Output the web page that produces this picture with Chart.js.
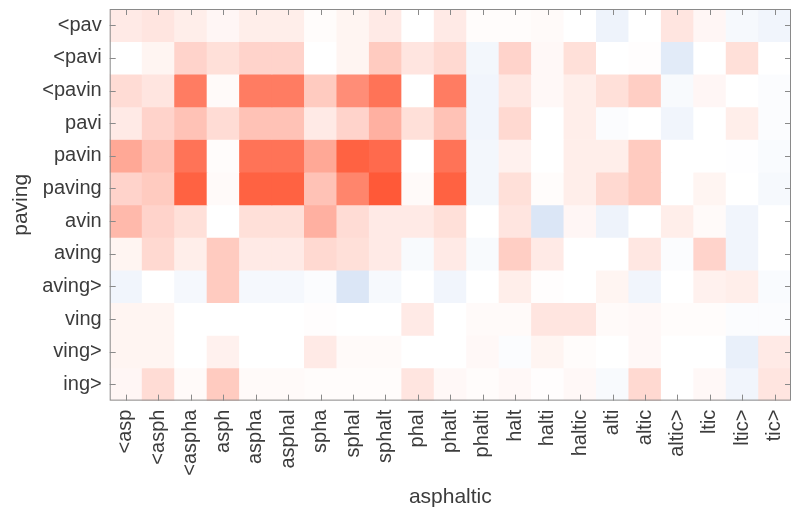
<!DOCTYPE html>
<html>
<head>
<meta charset="utf-8">
<script src="https://cdn.jsdelivr.net/npm/chart.js@4.4.1/dist/chart.umd.min.js"></script>
<style>
  html, body { margin: 0; padding: 0; background: #fff; }
  #wrap { width: 792px; height: 510px; }
</style>
</head>
<body>
<div id="wrap"><canvas id="heat"></canvas></div>
<script>
// rows (y) and columns (x) of the similarity map
const rowLabels = ["<pav", "<pavi", "<pavin", "pavi", "pavin", "paving", "avin", "aving", "aving>", "ving", "ving>", "ing>"];
const colLabels = ["<asp", "<asph", "<aspha", "asph", "aspha", "asphal", "spha", "sphal", "sphalt", "phal", "phalt",
                   "phalti", "halt", "halti", "haltic", "alti", "altic", "altic>", "ltic", "ltic>", "tic>"];

// cell values, one array per row (-1 blue .. 0 white .. 1 red)
const rowPav    = [0.12, 0.15, 0.10, 0.05, 0.10, 0.10, 0.02, 0.06, 0.12, 0.00, 0.12, 0.02, 0.02, 0.03, 0.00, -0.12, 0.00, 0.15, 0.05, -0.06, -0.10];
const rowPavi   = [0.00, 0.06, 0.25, 0.18, 0.25, 0.25, 0.00, 0.06, 0.30, 0.15, 0.22, -0.08, 0.25, 0.04, 0.18, 0.00, 0.01, -0.20, 0.00, 0.18, 0.00];
const rowPavin  = [0.20, 0.15, 0.75, 0.03, 0.75, 0.75, 0.30, 0.65, 0.80, 0.00, 0.75, -0.10, 0.14, 0.04, 0.10, 0.18, 0.28, -0.05, 0.05, 0.00, -0.03];
const rowPavi2  = [0.12, 0.25, 0.35, 0.20, 0.35, 0.35, 0.12, 0.25, 0.45, 0.18, 0.35, -0.10, 0.22, 0.00, 0.10, -0.03, 0.00, -0.10, 0.00, 0.10, -0.03];
const rowPavin2 = [0.50, 0.35, 0.80, 0.02, 0.80, 0.80, 0.50, 0.90, 0.85, 0.00, 0.80, -0.08, 0.08, 0.00, 0.10, 0.10, 0.30, 0.00, 0.00, -0.01, -0.04];
const rowPaving = [0.25, 0.30, 0.90, 0.03, 0.90, 0.90, 0.35, 0.70, 0.95, 0.03, 0.90, -0.08, 0.18, 0.02, 0.10, 0.22, 0.30, 0.00, 0.06, 0.00, -0.06];
const rowAvin   = [0.40, 0.25, 0.18, 0.00, 0.18, 0.18, 0.45, 0.20, 0.12, 0.12, 0.18, 0.00, 0.15, -0.25, 0.05, -0.12, 0.00, 0.10, 0.03, -0.10, 0.00];
const rowAving  = [0.06, 0.22, 0.10, 0.30, 0.12, 0.12, 0.22, 0.18, 0.12, -0.05, 0.12, -0.05, 0.28, 0.12, 0.00, 0.00, 0.14, -0.03, 0.25, -0.10, 0.00];
const rowAvingE = [-0.10, 0.00, -0.07, 0.30, -0.07, -0.07, -0.03, -0.25, -0.06, 0.00, -0.10, 0.00, 0.10, 0.01, 0.00, 0.06, -0.10, 0.00, 0.08, 0.10, -0.04];
const rowVing   = [0.06, 0.06, 0.00, 0.00, 0.00, 0.00, 0.01, 0.00, 0.00, 0.12, 0.00, 0.03, 0.03, 0.15, 0.15, 0.03, 0.04, 0.02, 0.02, -0.03, -0.03];
const rowVingE  = [0.06, 0.06, 0.00, 0.08, 0.00, 0.00, 0.12, 0.03, 0.03, 0.00, 0.00, 0.04, -0.03, 0.06, 0.02, 0.00, 0.04, 0.00, 0.00, -0.15, 0.12];
const rowIngE   = [0.05, 0.20, 0.03, 0.30, 0.03, 0.03, 0.02, 0.02, 0.02, 0.15, 0.04, 0.02, 0.04, 0.01, 0.04, -0.05, 0.22, 0.00, 0.04, -0.10, 0.15];

const values = [rowPav, rowPavi, rowPavin, rowPavi2, rowPavin2, rowPaving, rowAvin, rowAving, rowAvingE, rowVing, rowVingE, rowIngE];

// diverging white -> red / white -> blue
function cellColor(v) {
    const red = [255, 80, 45];
    const blue = [110, 155, 220];
    const end = v >= 0 ? red : blue;
    const t = Math.min(1, Math.abs(v));
    const c = end.map(e => Math.round(255 + (e - 255) * t));
    return `rgb(${c[0]},${c[1]},${c[2]})`;
}

// box with inward ticks, matlab style
const boxTicks = {
    id: "boxTicks",
    afterDraw(chart) {
        const { ctx, chartArea: a, scales } = chart;
        const len = 6;
        ctx.save();
        ctx.strokeStyle = "#8a8a8a";
        ctx.lineWidth = 1;
        ctx.strokeRect(a.left + 0.5, a.top + 0.5, a.right - a.left - 1, a.bottom - a.top - 1);
        ctx.beginPath();
        scales.x.ticks.forEach((t, i) => {
            const x = Math.round(scales.x.getPixelForTick(i)) + 0.5;
            ctx.moveTo(x, a.top); ctx.lineTo(x, a.top + len);
            ctx.moveTo(x, a.bottom); ctx.lineTo(x, a.bottom - len);
        });
        scales.y.ticks.forEach((t, i) => {
            const y = Math.round(scales.y.getPixelForTick(i)) + 0.5;
            ctx.moveTo(a.left, y); ctx.lineTo(a.left + len, y);
            ctx.moveTo(a.right, y); ctx.lineTo(a.right - len, y);
        });
        ctx.stroke();
        ctx.restore();
    }
};

const datasets = rowLabels.map((name, r) => ({
    label: name,
    data: colLabels.map(() => [r, r + 1]),
    backgroundColor: values[r].map(cellColor),
    borderWidth: 0,
    grouped: false,
    barPercentage: 1,
    categoryPercentage: 1
}));

const font = { family: "'Liberation Sans', Arial, sans-serif", size: 20 };

new Chart(document.getElementById("heat"), {
    type: "bar",
    data: { labels: colLabels, datasets },
    plugins: [boxTicks],
    options: {
        responsive: true,
        maintainAspectRatio: false,
        animation: false,
        layout: { padding: { left: 0, right: 1, top: 9, bottom: 0 } },
        plugins: { legend: { display: false }, tooltip: { enabled: false } },
        scales: {
            x: {
                type: "category",
                grid: { display: false, drawTicks: false },
                border: { display: false },
                ticks: { color: "#3c3c3c", font, maxRotation: 90, minRotation: 90, autoSkip: false, padding: 9 },
                title: { display: true, text: "asphaltic", color: "#3c3c3c", font: { family: font.family, size: 21 }, padding: { top: 0, bottom: 0 } },
                afterFit: s => { s.paddingLeft = 0; s.paddingRight = 0; }
            },
            y: {
                type: "linear",
                reverse: true,
                min: 0,
                max: rowLabels.length,
                afterBuildTicks: axis => { axis.ticks = rowLabels.map((_, i) => ({ value: i + 0.5 })); },
                grid: { display: false, drawTicks: false },
                border: { display: false },
                ticks: { color: "#3c3c3c", font, autoSkip: false, padding: 8, callback: (v, i) => rowLabels[i] },
                title: { display: true, text: "paving", color: "#3c3c3c", font: { family: font.family, size: 21 }, padding: { top: 9, bottom: 0 } },
                afterFit: s => { s.paddingTop = 0; s.paddingBottom = 0; }
            }
        }
    }
});
</script>
</body>
</html>
